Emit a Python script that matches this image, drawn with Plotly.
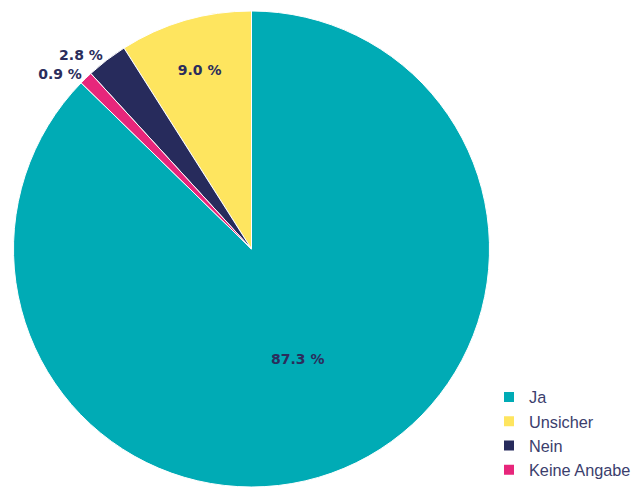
import plotly.graph_objects as go

labels = ["Ja", "Unsicher", "Nein", "Keine Angabe"]
values = [87.3, 9.0, 2.8, 0.9]
colors = ["#00abb5", "#fee55f", "#272b5c", "#e7267b"]
text_labels = ["87.3 %", "9.0 %", "2.8 %", "0.9 %"]

fig = go.Figure(
    go.Pie(
        labels=labels,
        values=values,
        text=text_labels,
        textinfo="text",
        textposition=["inside", "inside", "outside", "outside"],
        insidetextorientation="horizontal",
        sort=False,
        direction="counterclockwise",
        rotation=0,
        marker=dict(colors=colors, line=dict(color="white", width=1)),
        textfont=dict(family="DejaVu Sans", size=14, color="#2b2d5c", weight="bold"),
        hoverinfo="label+percent",
    )
)

fig.update_layout(
    width=643,
    height=487,
    margin=dict(l=13, r=153, t=11, b=0, autoexpand=False),
    paper_bgcolor="white",
    plot_bgcolor="white",
    showlegend=True,
    legend=dict(
        xref="container",
        x=489 / 643,
        xanchor="left",
        yref="container",
        y=0,
        yanchor="bottom",
        font=dict(family="Liberation Sans", size=16.3, color="#3b3e6d"),
        itemsizing="constant",
        tracegroupgap=0,
    ),
)

fig.write_html("out.html")
